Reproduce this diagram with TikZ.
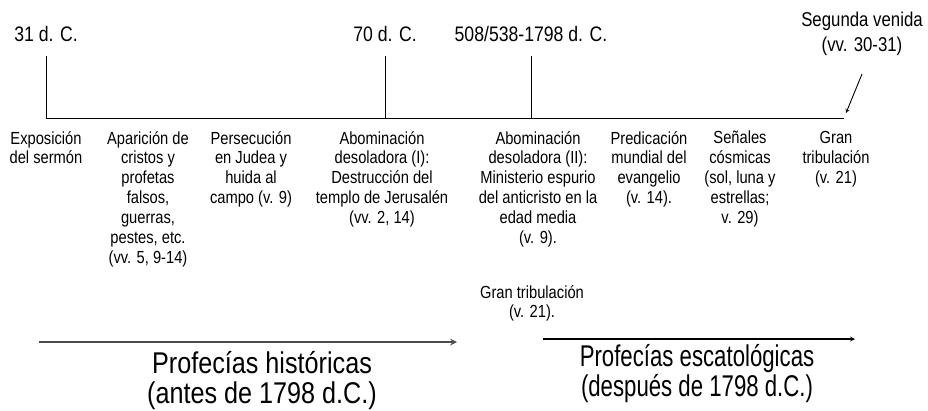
\documentclass[tikz,border=0pt]{standalone}
\usepackage{fontspec}
\setmainfont{Liberation Sans}[FakeStretch=0.84]
\newfontfamily\narrowfont{Liberation Sans}[FakeStretch=0.74]
\usetikzlibrary{positioning}
\begin{document}
\begin{tikzpicture}[x=1pt,y=-1pt,>=stealth,
  date/.style={inner sep=0pt,anchor=base,text depth=0pt,font=\fontsize{21}{24}\selectfont},
  event/.style={inner sep=0pt,anchor=north,align=center,font=\fontsize{17.5}{19.9}\selectfont},
  era/.style={inner sep=0pt,anchor=north,align=center,font=\fontsize{30}{30}\selectfont}]

\useasboundingbox (0,0) rectangle (928,410);

% points on the line
\coordinate (p31) at (46,118);
\coordinate (p70) at (385,118);
\coordinate (p508) at (531,118);
\coordinate (pend) at (844,118);

\node [date] at (46,41) (d31) {31 d. C.};
\node [date] at (385,41) (d70) {70 d. C.};
\node [date] at (531,41) (d508) {508/538-1798 d. C.};
\node [event,font=\fontsize{20}{25}\selectfont] at (862,12) (sv) {Segunda venida\\(vv. 30-31)};

\draw [line width=0.9pt] (p31) -- (pend);
\draw [line width=0.9pt,shorten <=15pt] (d31) -- (p31);
\draw [line width=0.9pt,shorten <=15pt] (d70) -- (p70);
\draw [line width=0.9pt,shorten <=15pt] (d508) -- (p508);

\coordinate (svtail) at (862,74);
\coordinate (svtip) at (846,113);
\draw [->,line width=0.9pt] (svtail) -- (svtip);

% events
\node [event] at (46,131) (e1) {Exposición\\del sermón};
\node [event] at (148,131) (e2) {Aparición de\\cristos y\\profetas\\falsos,\\guerras,\\pestes, etc.\\(vv. 5, 9-14)};
\node [event] at (251,131) (e3) {Persecución\\en Judea y\\huida al\\campo (v. 9)};
\node [event] at (382,131) (e4) {Abominación\\desoladora (I):\\Destrucción del\\templo de Jerusalén\\(vv. 2, 14)};
\node [event] at (538,131) (e5) {Abominación\\desoladora (II):\\Ministerio espurio\\del anticristo en la\\edad media\\(v. 9).};
\node [event] at (649,131) (e6) {Predicación\\mundial del\\evangelio\\(v. 14).};
\node [event] at (740,131) (e7) {Señales\\cósmicas\\(sol, luna y\\estrellas;\\v. 29)};
\node [event] at (836,131) (e8) {Gran\\tribulación\\(v. 21)};
\node [event] at (532,285) (e9) {Gran tribulación\\(v. 21).};

% eras
\coordinate (h0) at (39,342);
\coordinate (h1) at (457,342);
\coordinate (s0) at (543,339);
\coordinate (s1) at (855,339);
\draw [->,line width=2pt,gray!60!black] (h0) -- (h1);
\draw [->,line width=1.2pt] (s0) -- (s1);

\node [era] at (262,351) (hist) {Profecías históricas\\(antes de 1798 d.C.)};
\node [era,font=\narrowfont\fontsize{30}{30}\selectfont] at (697,344) (esc) {Profecías escatológicas\\(después de 1798 d.C.)};

\end{tikzpicture}
\end{document}
